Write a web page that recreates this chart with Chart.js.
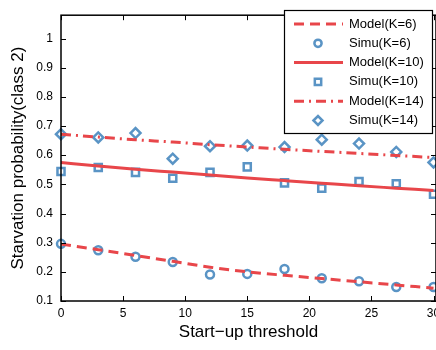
<!DOCTYPE html>
<html>
<head>
<meta charset="utf-8">
<script src="https://cdn.jsdelivr.net/npm/chart.js@4/dist/chart.umd.min.js"></script>
<style>
  html, body { margin: 0; padding: 0; background: #fff; }
  canvas { display: block; }
</style>
</head>
<body>
<canvas id="starveChart" width="436" height="350"></canvas>
<script>
// start-up threshold values
const thresholds = [0, 3, 6, 9, 12, 15, 18, 21, 24, 27, 30];

const modelK6  = [0.295, 0.276, 0.256, 0.236, 0.216, 0.200, 0.188, 0.177, 0.166, 0.155, 0.144];
const simuK6   = [0.296, 0.274, 0.252, 0.234, 0.191, 0.193, 0.210, 0.178, 0.168, 0.148, 0.148];
const modelK10 = [0.575, 0.563, 0.552, 0.542, 0.532, 0.522, 0.513, 0.504, 0.495, 0.487, 0.479];
const simuK10  = [0.544, 0.558, 0.541, 0.521, 0.541, 0.560, 0.505, 0.487, 0.510, 0.502, 0.466];
const modelK14 = [0.672, 0.662, 0.653, 0.645, 0.636, 0.628, 0.620, 0.613, 0.606, 0.599, 0.592];
const simuK14  = [0.672, 0.661, 0.676, 0.588, 0.631, 0.633, 0.628, 0.653, 0.640, 0.611, 0.575];

const xTicks = [0, 5, 10, 15, 20, 25, 30];
const yTicks = [0.1, 0.2, 0.3, 0.4, 0.5, 0.6, 0.7, 0.8, 0.9, 1.0];

const red = "#e8464a";
const blue = "#5a94c5";
const font = "'Liberation Sans', Arial, sans-serif";
const pts = arr => thresholds.map((t, i) => ({ x: t, y: arr[i] }));

function modelSet(label, arr, dash) {
  return {
    label, data: pts(arr), type: "line",
    borderColor: red, borderWidth: 3, borderDash: dash,
    pointRadius: 0, cubicInterpolationMode: "monotone", clip: false
  };
}
function simuSet(label, arr, shape, r) {
  return {
    label, data: pts(arr), type: "line", showLine: false,
    pointStyle: shape, pointRadius: r, pointBorderWidth: 2.5,
    pointBorderColor: blue, pointBackgroundColor: "rgba(0,0,0,0)",
    borderColor: blue, clip: false
  };
}

// inner ticks, box and the legend, MATLAB style
const frame = {
  id: "frame",
  afterDatasetsDraw(chart) {
    const { ctx, chartArea: a, scales: { x, y } } = chart;
    ctx.save();
    ctx.strokeStyle = "#000";
    ctx.lineWidth = 1;
    ctx.beginPath();
    x.ticks.forEach(t => {
      const px = Math.round(x.getPixelForValue(t.value)) + 0.5;
      ctx.moveTo(px, a.bottom); ctx.lineTo(px, a.bottom - 5);
      ctx.moveTo(px, a.top); ctx.lineTo(px, a.top + 5);
    });
    y.ticks.forEach(t => {
      const py = Math.round(y.getPixelForValue(t.value)) + 0.5;
      ctx.moveTo(a.left, py); ctx.lineTo(a.left + 5, py);
      ctx.moveTo(a.right, py); ctx.lineTo(a.right - 5, py);
    });
    ctx.stroke();
    ctx.lineWidth = 1.5;
    ctx.strokeRect(a.left, a.top, a.width, a.height);

    // legend
    const bx = 284, by = 10, bw = 148, bh = 123;
    ctx.fillStyle = "#fff";
    ctx.fillRect(bx, by, bw, bh);
    ctx.strokeStyle = "#000";
    ctx.lineWidth = 1.2;
    ctx.strokeRect(bx + 0.5, by + 0.5, bw, bh);
    ctx.font = "13px " + font;
    ctx.textBaseline = "middle";
    chart.data.datasets.forEach((ds, i) => {
      const cy = by + 14 + i * 19.3;
      if (ds.showLine === false) {
        ctx.fillStyle = "rgba(0,0,0,0)";
        ctx.strokeStyle = blue;
        ctx.lineWidth = ds.pointBorderWidth;
        Chart.helpers.drawPoint(ctx, {
          pointStyle: ds.pointStyle, radius: ds.pointRadius * 0.9,
          borderWidth: ds.pointBorderWidth, rotation: 0
        }, 318, cy);
      } else {
        ctx.strokeStyle = red;
        ctx.lineWidth = 3;
        ctx.setLineDash(ds.borderDash || []);
        ctx.beginPath();
        ctx.moveTo(294, cy); ctx.lineTo(343, cy);
        ctx.stroke();
        ctx.setLineDash([]);
      }
      ctx.fillStyle = "#000";
      ctx.fillText(ds.label, 349, cy);
    });
    ctx.restore();
  }
};

new Chart(document.getElementById("starveChart"), {
  type: "line",
  data: {
    datasets: [
      modelSet("Model(K=6)", modelK6, [10, 6]),
      simuSet("Simu(K=6)", simuK6, "circle", 4),
      modelSet("Model(K=10)", modelK10, []),
      simuSet("Simu(K=10)", simuK10, "rect", 5),
      modelSet("Model(K=14)", modelK14, [10, 5, 2, 5]),
      simuSet("Simu(K=14)", simuK14, "rectRot", 5)
    ]
  },
  options: {
    responsive: false,
    animation: false,
    layout: { autoPadding: false, padding: { top: 10, right: 0, left: 0, bottom: 0 } },
    plugins: { legend: { display: false }, tooltip: { enabled: false } },
    scales: {
      x: {
        type: "linear", min: 0, max: 30.2,
        afterBuildTicks: s => { s.ticks = xTicks.map(v => ({ value: v })); },
        afterFit: s => { s.height = 49; s.paddingRight = 0; s.paddingLeft = 0; },
        grid: { display: false, drawTicks: false },
        border: { display: false },
        ticks: { color: "#000", padding: 5, maxRotation: 0,
                 font: { family: font, size: 12 } },
        title: { display: true, text: "Start\u2212up threshold", color: "#000",
                 padding: { top: 0, bottom: 7 },
                 font: { family: font, size: 17 } }
      },
      y: {
        min: 0.1, max: 1.08,
        afterBuildTicks: s => { s.ticks = yTicks.map(v => ({ value: v })); },
        afterFit: s => { s.width = 61; },
        grid: { display: false, drawTicks: false },
        border: { display: false },
        ticks: { color: "#000", padding: 8,
                 callback: v => String(+v.toFixed(1)),
                 font: { family: font, size: 12 } },
        title: { display: true, text: "Starvation probability(class 2)", color: "#000",
                 padding: { top: 8, bottom: 0 },
                 font: { family: font, size: 17 } }
      }
    }
  },
  plugins: [frame]
});
</script>
</body>
</html>
